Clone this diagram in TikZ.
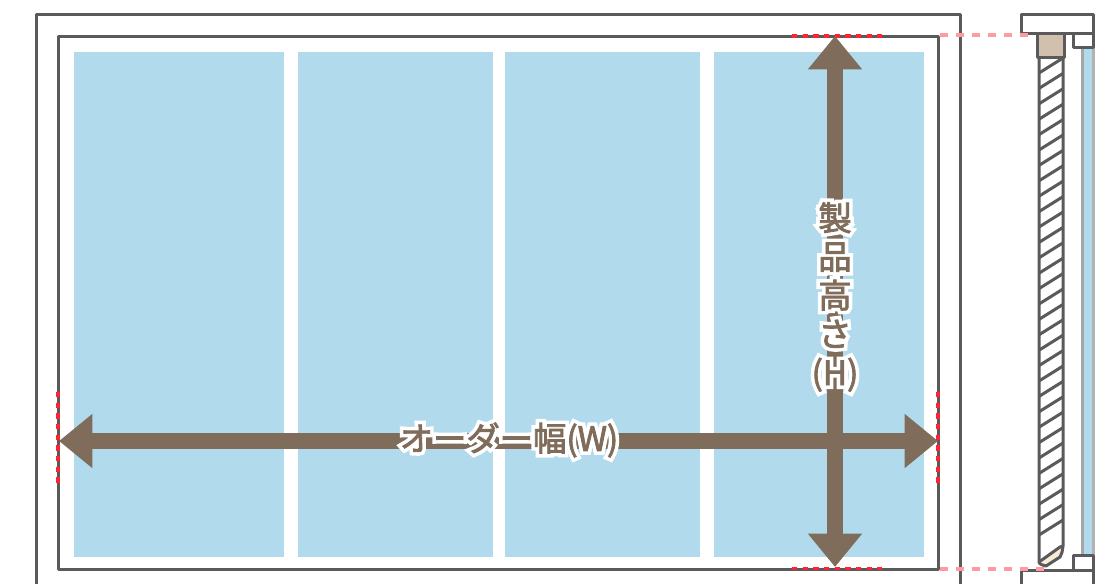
\documentclass[tikz,border=0pt]{standalone}
\usepackage{fontspec}
\usetikzlibrary{arrows.meta}
\newfontfamily\labelfont{Noto Sans CJK JP}[FakeBold=2.5]
\newfontfamily\halofont{Noto Sans CJK JP}[FakeBold=24]
\definecolor{panelblue}{HTML}{B1DAEC}
\definecolor{dimbrown}{HTML}{806C5A}
\definecolor{framegray}{HTML}{5A5A5A}
\definecolor{railbeige}{HTML}{D2C0AE}
\definecolor{slatcream}{HTML}{FAEBD7}
\definecolor{marksred}{HTML}{FF2233}
\definecolor{markspink}{HTML}{FF9AA2}
\tikzset{
  frameline/.style={draw=framegray,line width=2.25pt,line join=round},
  dimarrow/.style={draw=dimbrown,line width=12pt,{Triangle[length=25pt,width=39pt]}-{Triangle[length=25pt,width=39pt]},shorten >=0pt,shorten <=0pt},
  redmark/.style={draw=marksred,line width=2.4pt,dash pattern=on 4pt off 4pt},
  pinkmark/.style={draw=markspink,line width=2.4pt,dash pattern=on 6pt off 6pt},
  dimlabel/.style={inner sep=0pt,align=center,text=dimbrown,font=\labelfont\fontsize{25pt}{29pt}\selectfont},
  dimhalo/.style={inner sep=0pt,align=center,text=white,font=\halofont\fontsize{25pt}{29pt}\selectfont}
}
\begin{document}
\begin{tikzpicture}[x=0.75pt,y=-0.75pt]
  \useasboundingbox (0,0) rectangle (1112,583);
  \begin{scope}
    \clip (0,0) rectangle (1112,583);
    % window frames
    \draw[frameline] (36,600) -- (36,14) -- (960,14) -- (960,600);
    \draw[frameline] (58,36) rectangle (938,569);
    % panels
    \foreach \xa/\xb in {74/284,298/493,505/700,714/924} {
      \fill[panelblue] (\xa,52) rectangle (\xb,557);}
    % side view
    \fill[panelblue] (1082,47) rectangle (1093,555);
    \draw[gray!70,line width=2.25pt] (1082,47) -- (1082,555);
    \draw[gray!60,line width=2.25pt] (1093,47) -- (1093,555);
    \draw[frameline] (1021,14) rectangle (1093,33);
    \draw[frameline] (1073,33) rectangle (1093,47);
    \draw[frameline] (1073,555) rectangle (1093,570);
    \draw[frameline] (1021,600) -- (1021,570) -- (1093,570) -- (1093,600);
    \fill[slatcream] (1040,561) -- (1060,547) -- (1062,546) .. controls (1062,552) .. (1060,557) -- (1046,566) -- cycle;
    \foreach \y in {73,88.4,...,550} {
      \draw[frameline] (1039,\y) -- (1063,\y-15);}
    \draw[frameline] (1039,562) -- (1060,547) -- (1063,546);
    \draw[frameline] (1039,57) -- (1039,560) .. controls (1039,564) .. (1046,566) -- (1060,557) .. controls (1062,553) .. (1063,546) -- (1063,57);
    \draw[frameline,fill=railbeige] (1037,33) rectangle (1064,57);
    % guide marks
    \draw[redmark] (792,36) -- (882,36);
    \draw[redmark] (792,568.5) -- (882,568.5);
    \draw[redmark] (58,392) -- (58,484);
    \draw[redmark] (938,392) -- (938,484);
    \draw[pinkmark] (940,35) -- (1030,35);
    \draw[pinkmark] (940,569) -- (1047,569);
    % dimensions
    \coordinate (wleft) at (59,441);
    \coordinate (wright) at (938,441);
    \coordinate (htop) at (835,36);
    \coordinate (hbottom) at (835,567);
    \draw[dimarrow] (wleft) -- (wright);
    \draw[dimarrow] (htop) -- (hbottom);
    \node[dimhalo] (widthhalo) at (509,440) {オーダー幅(W)};
    \node[dimlabel] (width) at (509,440) {オーダー幅(W)};
    \node[dimhalo] (heighthalo) at (835,297) {製\\品\\高\\さ\\(H)};
    \node[dimlabel] (height) at (835,297) {製\\品\\高\\さ\\(H)};
  \end{scope}
\end{tikzpicture}
\end{document}
